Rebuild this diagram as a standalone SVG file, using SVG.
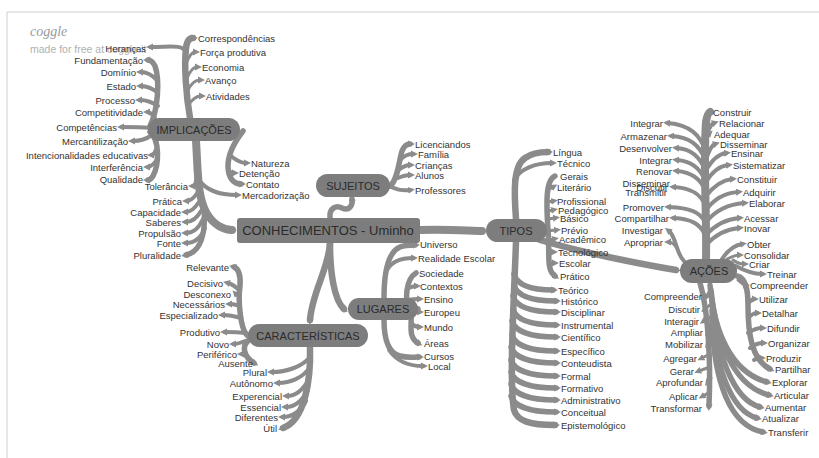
<svg xmlns="http://www.w3.org/2000/svg" width="819" height="458" viewBox="0 0 819 458">
<style>
.b{fill:none;stroke:#8b8b8b;stroke-linecap:round;stroke-width:4;marker-end:url(#tip)}
.w5{stroke-width:5.5}.w6{stroke-width:6.5}.w8{stroke-width:8}.w3{stroke-width:3}
.l{font-family:"Liberation Sans",Arial,sans-serif;font-size:9.5px;fill:#333}
.e{text-anchor:end}
.n{fill:#7d7d7d}
.nt{font-family:"Liberation Sans",Arial,sans-serif;font-size:11px;fill:#2b2b2b;text-anchor:middle}
</style>
<defs>
<marker id="tip" markerUnits="userSpaceOnUse" markerWidth="10" markerHeight="10" refX="2" refY="4" orient="auto" viewBox="0 0 10 8">
<path d="M0,0.5 L7,4 L0,7.5 z" fill="#8b8b8b"/>
</marker>
</defs>
<rect width="819" height="458" fill="#fff"/>
<path d="M7,458 V12 H819" fill="none" stroke="#cfcfcf" stroke-width="1"/>
<text x="30" y="36" font-family="Liberation Serif,serif" font-style="italic" font-size="14" fill="#9a9a9a">coggle</text>
<text x="30" y="53" font-family="Liberation Sans,Arial,sans-serif" font-size="10.5" fill="#b0b0b0">made for free at coggle.it</text>

<g id="connectors">
<!-- IMPLICAÇÕES -->
<path class="b w6" d="M190,118 C186,95 184,65 186,48 C187,40 190,38 193,38"/>
<path class="b" d="M186,52 C182,44 170,47 151,47"/>
<path class="b w3" d="M186,64 C189,56 192,52 195,52"/>
<path class="b w3" d="M187,78 C190,71 193,67 197,67"/>
<path class="b w3" d="M188,90 C191,84 195,80 200,80"/>
<path class="b w3" d="M189,104 C193,99 196,96 201,96"/>
<path class="b w5" d="M150,126 C158,110 160,80 155,66 C153,62 151,60 148,60"/>
<path class="b" d="M157,80 C152,75 147,72 141,72"/>
<path class="b" d="M158,93 C152,88 147,86 141,86"/>
<path class="b" d="M158,106 C152,102 147,100 140,100"/>
<path class="b" d="M155,118 C152,114 150,112 148,112"/>
<path class="b" d="M150,128 C140,127 131,127 122,127"/>
<path class="b w5" d="M150,132 C160,140 159,165 153,176 C151,179 150,180 148,180"/>
<path class="b" d="M152,135 C145,140 139,141 133,141"/>
<path class="b" d="M157,147 C155,152 154,155 152,155"/>
<path class="b" d="M158,158 C154,164 151,167 148,167"/>
<path class="b w5" d="M243,131 C236,140 228,152 228,166 C228,177 233,184 241,184"/>
<path class="b" d="M231,156 C237,161 241,163 246,163"/>
<path class="b w3" d="M228,169 C231,172 232,173 234,173"/>
<path class="b w8" d="M196,141 C198,170 197,195 206,212 C213,225 224,230 232,230"/>
<path class="b w5" d="M204,208 C206,235 200,252 186,255"/>
<path class="b" d="M199,180 C206,190 220,195 237,195"/>
<path class="b" d="M197,175 C196,182 195,186 193,186"/>
<path class="b" d="M198,192 C194,198 191,201 187,201"/>
<path class="b" d="M199,202 C195,208 191,212 186,212"/>
<path class="b" d="M201,211 C197,218 192,222 186,222"/>
<path class="b" d="M203,219 C199,228 193,233 186,233"/>
<path class="b" d="M205,228 C201,238 194,243 186,243"/>
<!-- SUJEITOS -->
<path class="b w5" d="M330,218 C329,208 336,205 342,208 C349,211 353,206 352,199"/>
<path class="b w5" d="M390,186 C398,180 399,160 402,151 C404,146 406,144 410,144"/>
<path class="b" d="M401,159 C405,155 409,154 413,154"/>
<path class="b" d="M400,169 C404,166 407,165 410,165"/>
<path class="b" d="M398,178 C403,176 406,175 410,175"/>
<path class="b" d="M391,187 C398,190 404,191 410,190"/>
<!-- central links -->
<path class="b w8" d="M420,230 C450,229 470,231 482,231"/>
<path class="b w6" d="M330,243 C330,272 334,300 344,309"/>
<path class="b w6" d="M330,243 C329,268 312,292 310,320"/>
<!-- LUGARES -->
<path class="b w5" d="M384,298 C384,272 388,252 400,247 C405,245 409,245 415,245"/>
<path class="b" d="M387,270 C392,261 402,258 413,258"/>
<path class="b w5" d="M418,309 C414,308 410,306 409,302"/>
<path class="b w5" d="M416,273 C406,279 404,300 410,311 C414,320 406,336 418,343"/>
<path class="b" d="M407,289 C411,287 413,286 416,286"/>
<path class="b" d="M408,300 C413,299 416,299 419,299"/>
<path class="b" d="M411,313 C414,312 417,312 419,312"/>
<path class="b" d="M411,323 C414,326 416,327 419,327"/>
<path class="b w5" d="M384,320 C384,340 388,353 400,356 C407,358 412,357 419,357"/>
<path class="b" d="M389,350 C397,362 409,366 423,366"/>
<!-- CARACTERÍSTICAS -->
<path class="b w5" d="M248,336 C240,330 238,300 240,286 C241,275 238,268 234,267"/>
<path class="b" d="M240,291 C235,286 232,284 228,283"/>
<path class="b w3" d="M240,298 C238,296 237,295 236,294"/>
<path class="b" d="M240,306 C236,305 233,304 230,304"/>
<path class="b" d="M241,318 C234,316 229,315 223,315"/>
<path class="b" d="M246,333 C237,332 231,332 225,332"/>
<path class="b w5" d="M249,340 C241,346 244,357 254,363"/>
<path class="b" d="M245,341 C240,343 237,344 234,344"/>
<path class="b w3" d="M245,350 C244,352 243,354 242,354"/>
<path class="b w6" d="M310,347 C311,380 305,420 283,428"/>
<path class="b" d="M310,357 C302,367 286,372 272,372"/>
<path class="b" d="M310,367 C303,378 290,383 278,383"/>
<path class="b" d="M309,379 C303,390 295,396 287,396"/>
<path class="b" d="M308,390 C302,401 294,407 286,407"/>
<path class="b" d="M306,401 C301,411 292,417 283,417"/>
<!-- TIPOS -->
<path class="b w6" d="M516,219 C514,192 513,166 525,158 C532,153 540,152 548,152"/>
<path class="b" d="M514,180 C520,169 535,163 552,163"/>
<path class="b w5" d="M555,176 C546,180 546,200 548,230 C550,255 546,270 555,276"/>
<path class="b w5" d="M546,231 L548,231"/>
<path class="b w3" d="M548,190 L553,187"/>
<path class="b w3" d="M547,202 L553,201"/>
<path class="b w3" d="M548,211 L553,210"/>
<path class="b w3" d="M548,219 L555,218"/>
<path class="b w3" d="M547,231 L556,230"/>
<path class="b w3" d="M549,240 L554,239"/>
<path class="b w3" d="M549,252 L553,252"/>
<path class="b w3" d="M549,263 L554,263"/>
<path class="b w6" d="M516,242 C514,300 509,380 514,410 C517,421 530,425 555,425"/>
<path class="b w5" d="M514,274 C517,285 530,290 553,290"/>
<path class="b w5" d="M514,285 C517,296 532,301 556,301"/>
<path class="b w5" d="M513,296 C516,307 532,312 556,312"/>
<path class="b w5" d="M513,309 C516,320 532,325 556,325"/>
<path class="b w5" d="M512,321 C515,332 532,337 556,337"/>
<path class="b w5" d="M512,335 C515,346 532,351 556,351"/>
<path class="b w5" d="M511,347 C514,358 532,363 556,363"/>
<path class="b w5" d="M511,360 C514,371 532,376 556,376"/>
<path class="b w5" d="M511,372 C514,383 532,388 556,388"/>
<path class="b w5" d="M511,384 C514,395 532,400 556,400"/>
<path class="b w5" d="M511,396 C514,407 532,412 556,412"/>
<!-- TIPOS to AÇÕES -->
<path class="b w6" d="M540,240 C580,252 640,264 676,270"/>
<!-- AÇÕES -->
<path class="b w8" d="M706,259 C707,220 703,160 706,122 C707,116 708,113 710,112"/>
<path class="b" d="M705,150 C700,135 690,125 668,123"/>
<path class="b" d="M705,160 C700,145 690,137 672,136"/>
<path class="b" d="M705,170 C700,157 690,149 677,148"/>
<path class="b" d="M705,180 C700,168 690,161 677,160"/>
<path class="b" d="M705,190 C700,178 690,172 677,171"/>
<path class="b" d="M705,205 C700,193 690,188 674,187"/>
<path class="b" d="M705,222 C700,212 690,208 669,207"/>
<path class="b" d="M705,235 C700,223 690,219 674,218"/>
<path class="b" d="M706,140 C708,130 711,124 714,123"/>
<path class="b w3" d="M706,145 C707,139 708,135 709,134"/>
<path class="b" d="M706,160 C709,150 712,145 715,144"/>
<path class="b" d="M706,170 C712,160 718,154 726,153"/>
<path class="b" d="M706,182 C712,172 720,166 728,165"/>
<path class="b" d="M706,196 C714,186 722,180 732,179"/>
<path class="b" d="M706,210 C714,199 725,193 738,192"/>
<path class="b" d="M706,222 C716,210 730,204 744,203"/>
<path class="b" d="M706,235 C716,224 728,219 739,218"/>
<path class="b" d="M706,245 C716,234 728,229 739,228"/>
<path class="b" d="M684,261 C676,254 676,236 669,231"/>
<path class="b w3" d="M677,248 C674,244 672,242 669,242"/>
<path class="b" d="M722,259 C728,250 736,245 742,244"/>
<path class="b w3" d="M727,259 C733,256 736,255 739,255"/>
<path class="b w3" d="M733,260 C737,263 740,264 744,264"/>
<path class="b" d="M736,266 C745,271 754,274 762,274"/>
<path class="b w5" d="M737,276 C746,278 748,290 748,305 C748,335 752,360 770,369"/>
<path class="b w3" d="M738,280 C742,283 743,285 745,285"/>
<path class="b" d="M748,304 C751,300 752,299 754,299"/>
<path class="b" d="M748,318 C752,314 754,313 757,313"/>
<path class="b" d="M748,333 C754,329 758,328 762,328"/>
<path class="b" d="M750,348 C755,344 760,343 763,343"/>
<path class="b" d="M754,360 C757,358 759,358 761,358"/>
<path class="b w5" d="M700,283 C708,310 711,360 709,406"/>
<path class="b w3" d="M709,292 L707,296"/>
<path class="b w3" d="M710,305 L705,309"/>
<path class="b w3" d="M710,317 L704,321"/>
<path class="b w3" d="M711,328 L708,332"/>
<path class="b w3" d="M711,340 L708,344"/>
<path class="b w3" d="M710,354 L702,358"/>
<path class="b w3" d="M710,367 L699,371"/>
<path class="b w3" d="M711,378 L708,382"/>
<path class="b w3" d="M710,392 L703,396"/>
<path class="b w5" d="M710,285 C714,330 730,372 767,382"/>
<path class="b w5" d="M711,290 C716,340 733,386 769,395"/>
<path class="b w5" d="M712,300 C716,352 733,400 760,407"/>
<path class="b w5" d="M712,310 C714,362 730,411 757,418"/>
<path class="b w5" d="M712,320 C714,382 730,426 763,432"/>
</g>

<g id="node-conhecimentos"><rect class="n" x="237" y="218" width="183" height="25" rx="3"/><text class="nt" x="328" y="235" style="font-size:13px">CONHECIMENTOS - Uminho</text></g>
<g id="node-implicacoes"><rect class="n" x="148" y="118" width="92" height="23" rx="11.5"/><text class="nt" x="194" y="133.5">IMPLICAÇÕES</text></g>
<g id="node-sujeitos"><rect class="n" x="316" y="174" width="74" height="23" rx="11.5"/><text class="nt" x="353" y="189.5">SUJEITOS</text></g>
<g id="node-lugares"><rect class="n" x="348" y="298" width="70" height="22" rx="11"/><text class="nt" x="383" y="313">LUGARES</text></g>
<g id="node-caracteristicas"><rect class="n" x="248" y="324" width="120" height="23" rx="11.5"/><text class="nt" x="308" y="339.5">CARACTERÍSTICAS</text></g>
<g id="node-tipos"><rect class="n" x="486" y="219" width="61" height="23" rx="11.5"/><text class="nt" x="516" y="234.5">TIPOS</text></g>
<g id="node-acoes"><rect class="n" x="680" y="259" width="57" height="24" rx="12"/><text class="nt" x="709" y="275">AÇÕES</text></g>

<g id="labels-implicacoes" class="l">
<text class="e" x="146" y="51.5">Heranças</text>
<text class="e" x="143" y="63.5">Fundamentação</text>
<text class="e" x="136" y="75.5">Domínio</text>
<text class="e" x="136" y="89.5">Estado</text>
<text class="e" x="135" y="103.5">Processo</text>
<text class="e" x="143" y="115.5">Competitividade</text>
<text class="e" x="117" y="130.5">Competências</text>
<text class="e" x="128" y="144.5">Mercantilização</text>
<text class="e" x="148" y="158.5">Intencionalidades educativas</text>
<text class="e" x="143" y="170.5">Interferência</text>
<text class="e" x="143" y="182.5">Qualidade</text>
<text class="e" x="188" y="189.5">Tolerância</text>
<text class="e" x="182" y="204.5">Prática</text>
<text class="e" x="181" y="215.5">Capacidade</text>
<text class="e" x="181" y="225.5">Saberes</text>
<text class="e" x="181" y="236.5">Propulsão</text>
<text class="e" x="181" y="246.5">Fonte</text>
<text class="e" x="181" y="258.5">Pluralidade</text>
<text x="198" y="41.5">Correspondências</text>
<text x="200" y="55.5">Força produtiva</text>
<text x="202" y="70.5">Economia</text>
<text x="205" y="83.5">Avanço</text>
<text x="206" y="99.5">Atividades</text>
<text x="251" y="166.5">Natureza</text>
<text x="239" y="176.5">Detenção</text>
<text x="246" y="187.5">Contato</text>
<text x="242" y="198.5">Mercadorização</text>
</g>

<g id="labels-caracteristicas" class="l">
<text class="e" x="229" y="270.5">Relevante</text>
<text class="e" x="223" y="286.5">Decisivo</text>
<text class="e" x="231" y="297.5">Desconexo</text>
<text class="e" x="225" y="307.5">Necessários</text>
<text class="e" x="218" y="318.5">Especializado</text>
<text class="e" x="220" y="335.5">Produtivo</text>
<text class="e" x="229" y="347.5">Novo</text>
<text class="e" x="237" y="357.5">Periférico</text>
<text class="e" x="253" y="366.5">Ausente</text>
<text class="e" x="267" y="375.5">Plural</text>
<text class="e" x="273" y="386.5">Autônomo</text>
<text class="e" x="282" y="399.5">Experencial</text>
<text class="e" x="281" y="410.5">Essencial</text>
<text class="e" x="278" y="420.5">Diferentes</text>
<text class="e" x="277" y="431.5">Útil</text>
</g>

<g id="labels-sujeitos" class="l">
<text x="415" y="147.5">Licenciandos</text>
<text x="418" y="157.5">Família</text>
<text x="415" y="168.5">Crianças</text>
<text x="415" y="178.5">Alunos</text>
<text x="415" y="193.5">Professores</text>
</g>

<g id="labels-lugares" class="l">
<text x="420" y="247.5">Universo</text>
<text x="418" y="261.5">Realidade Escolar</text>
<text x="419" y="276.5">Sociedade</text>
<text x="420" y="289.5">Contextos</text>
<text x="424" y="302.5">Ensino</text>
<text x="424" y="315.5">Europeu</text>
<text x="424" y="330.5">Mundo</text>
<text x="424" y="346.5">Áreas</text>
<text x="424" y="359.5">Cursos</text>
<text x="428" y="369.5">Local</text>
</g>

<g id="labels-tipos" class="l">
<text x="553" y="155.5">Língua</text>
<text x="557" y="166.5">Técnico</text>
<text x="560" y="179.5">Gerais</text>
<text x="557" y="190.5">Literário</text>
<text x="557" y="204.5">Profissional</text>
<text x="558" y="213.5">Pedagógico</text>
<text x="560" y="221.5">Básico</text>
<text x="561" y="233.5">Prévio</text>
<text x="559" y="242.5">Acadêmico</text>
<text x="558" y="255.5">Tecnológico</text>
<text x="559" y="266.5">Escolar</text>
<text x="560" y="279.5">Prático</text>
<text x="558" y="293.5">Teórico</text>
<text x="561" y="304.5">Histórico</text>
<text x="561" y="315.5">Disciplinar</text>
<text x="561" y="328.5">Instrumental</text>
<text x="561" y="340.5">Científico</text>
<text x="561" y="354.5">Específico</text>
<text x="561" y="366.5">Conteudista</text>
<text x="561" y="379.5">Formal</text>
<text x="561" y="391.5">Formativo</text>
<text x="561" y="403.5">Administrativo</text>
<text x="561" y="415.5">Conceitual</text>
<text x="561" y="428.5">Epistemológico</text>
</g>

<g id="labels-acoes" class="l">
<text class="e" x="663" y="126.5">Integrar</text>
<text class="e" x="667" y="139.5">Armazenar</text>
<text class="e" x="672" y="151.5">Desenvolver</text>
<text class="e" x="672" y="163.5">Integrar</text>
<text class="e" x="672" y="174.5">Renovar</text>
<text class="e" x="670" y="186.5">Disseminar</text>
<text class="e" x="668" y="190.5">Discutir</text>
<text class="e" x="667" y="195.5">Transmitir</text>
<text class="e" x="664" y="210.5">Promover</text>
<text class="e" x="669" y="221.5">Compartilhar</text>
<text class="e" x="663" y="233.5">Investigar</text>
<text class="e" x="663" y="245.5">Apropriar</text>
<text class="e" x="702" y="299.5">Compreender</text>
<text class="e" x="700" y="312.5">Discutir</text>
<text class="e" x="699" y="324.5">Interagir</text>
<text class="e" x="703" y="335.5">Ampliar</text>
<text class="e" x="703" y="347.5">Mobilizar</text>
<text class="e" x="697" y="361.5">Agregar</text>
<text class="e" x="694" y="374.5">Gerar</text>
<text class="e" x="703" y="385.5">Aprofundar</text>
<text class="e" x="698" y="399.5">Aplicar</text>
<text class="e" x="702" y="411.5">Transformar</text>
<text x="713" y="115.5">Construir</text>
<text x="719" y="126.5">Relacionar</text>
<text x="714" y="137.5">Adequar</text>
<text x="720" y="147.5">Disseminar</text>
<text x="731" y="156.5">Ensinar</text>
<text x="733" y="168.5">Sistematizar</text>
<text x="737" y="182.5">Constituir</text>
<text x="743" y="195.5">Adquirir</text>
<text x="749" y="206.5">Elaborar</text>
<text x="744" y="221.5">Acessar</text>
<text x="744" y="231.5">Inovar</text>
<text x="747" y="247.5">Obter</text>
<text x="744" y="258.5">Consolidar</text>
<text x="749" y="267.5">Criar</text>
<text x="767" y="277.5">Treinar</text>
<text x="750" y="288.5">Compreender</text>
<text x="759" y="302.5">Utilizar</text>
<text x="762" y="316.5">Detalhar</text>
<text x="767" y="331.5">Difundir</text>
<text x="768" y="346.5">Organizar</text>
<text x="766" y="361.5">Produzir</text>
<text x="775" y="372.5">Partilhar</text>
<text x="772" y="385.5">Explorar</text>
<text x="774" y="398.5">Articular</text>
<text x="765" y="410.5">Aumentar</text>
<text x="762" y="421.5">Atualizar</text>
<text x="768" y="435.5">Transferir</text>
</g>
</svg>
